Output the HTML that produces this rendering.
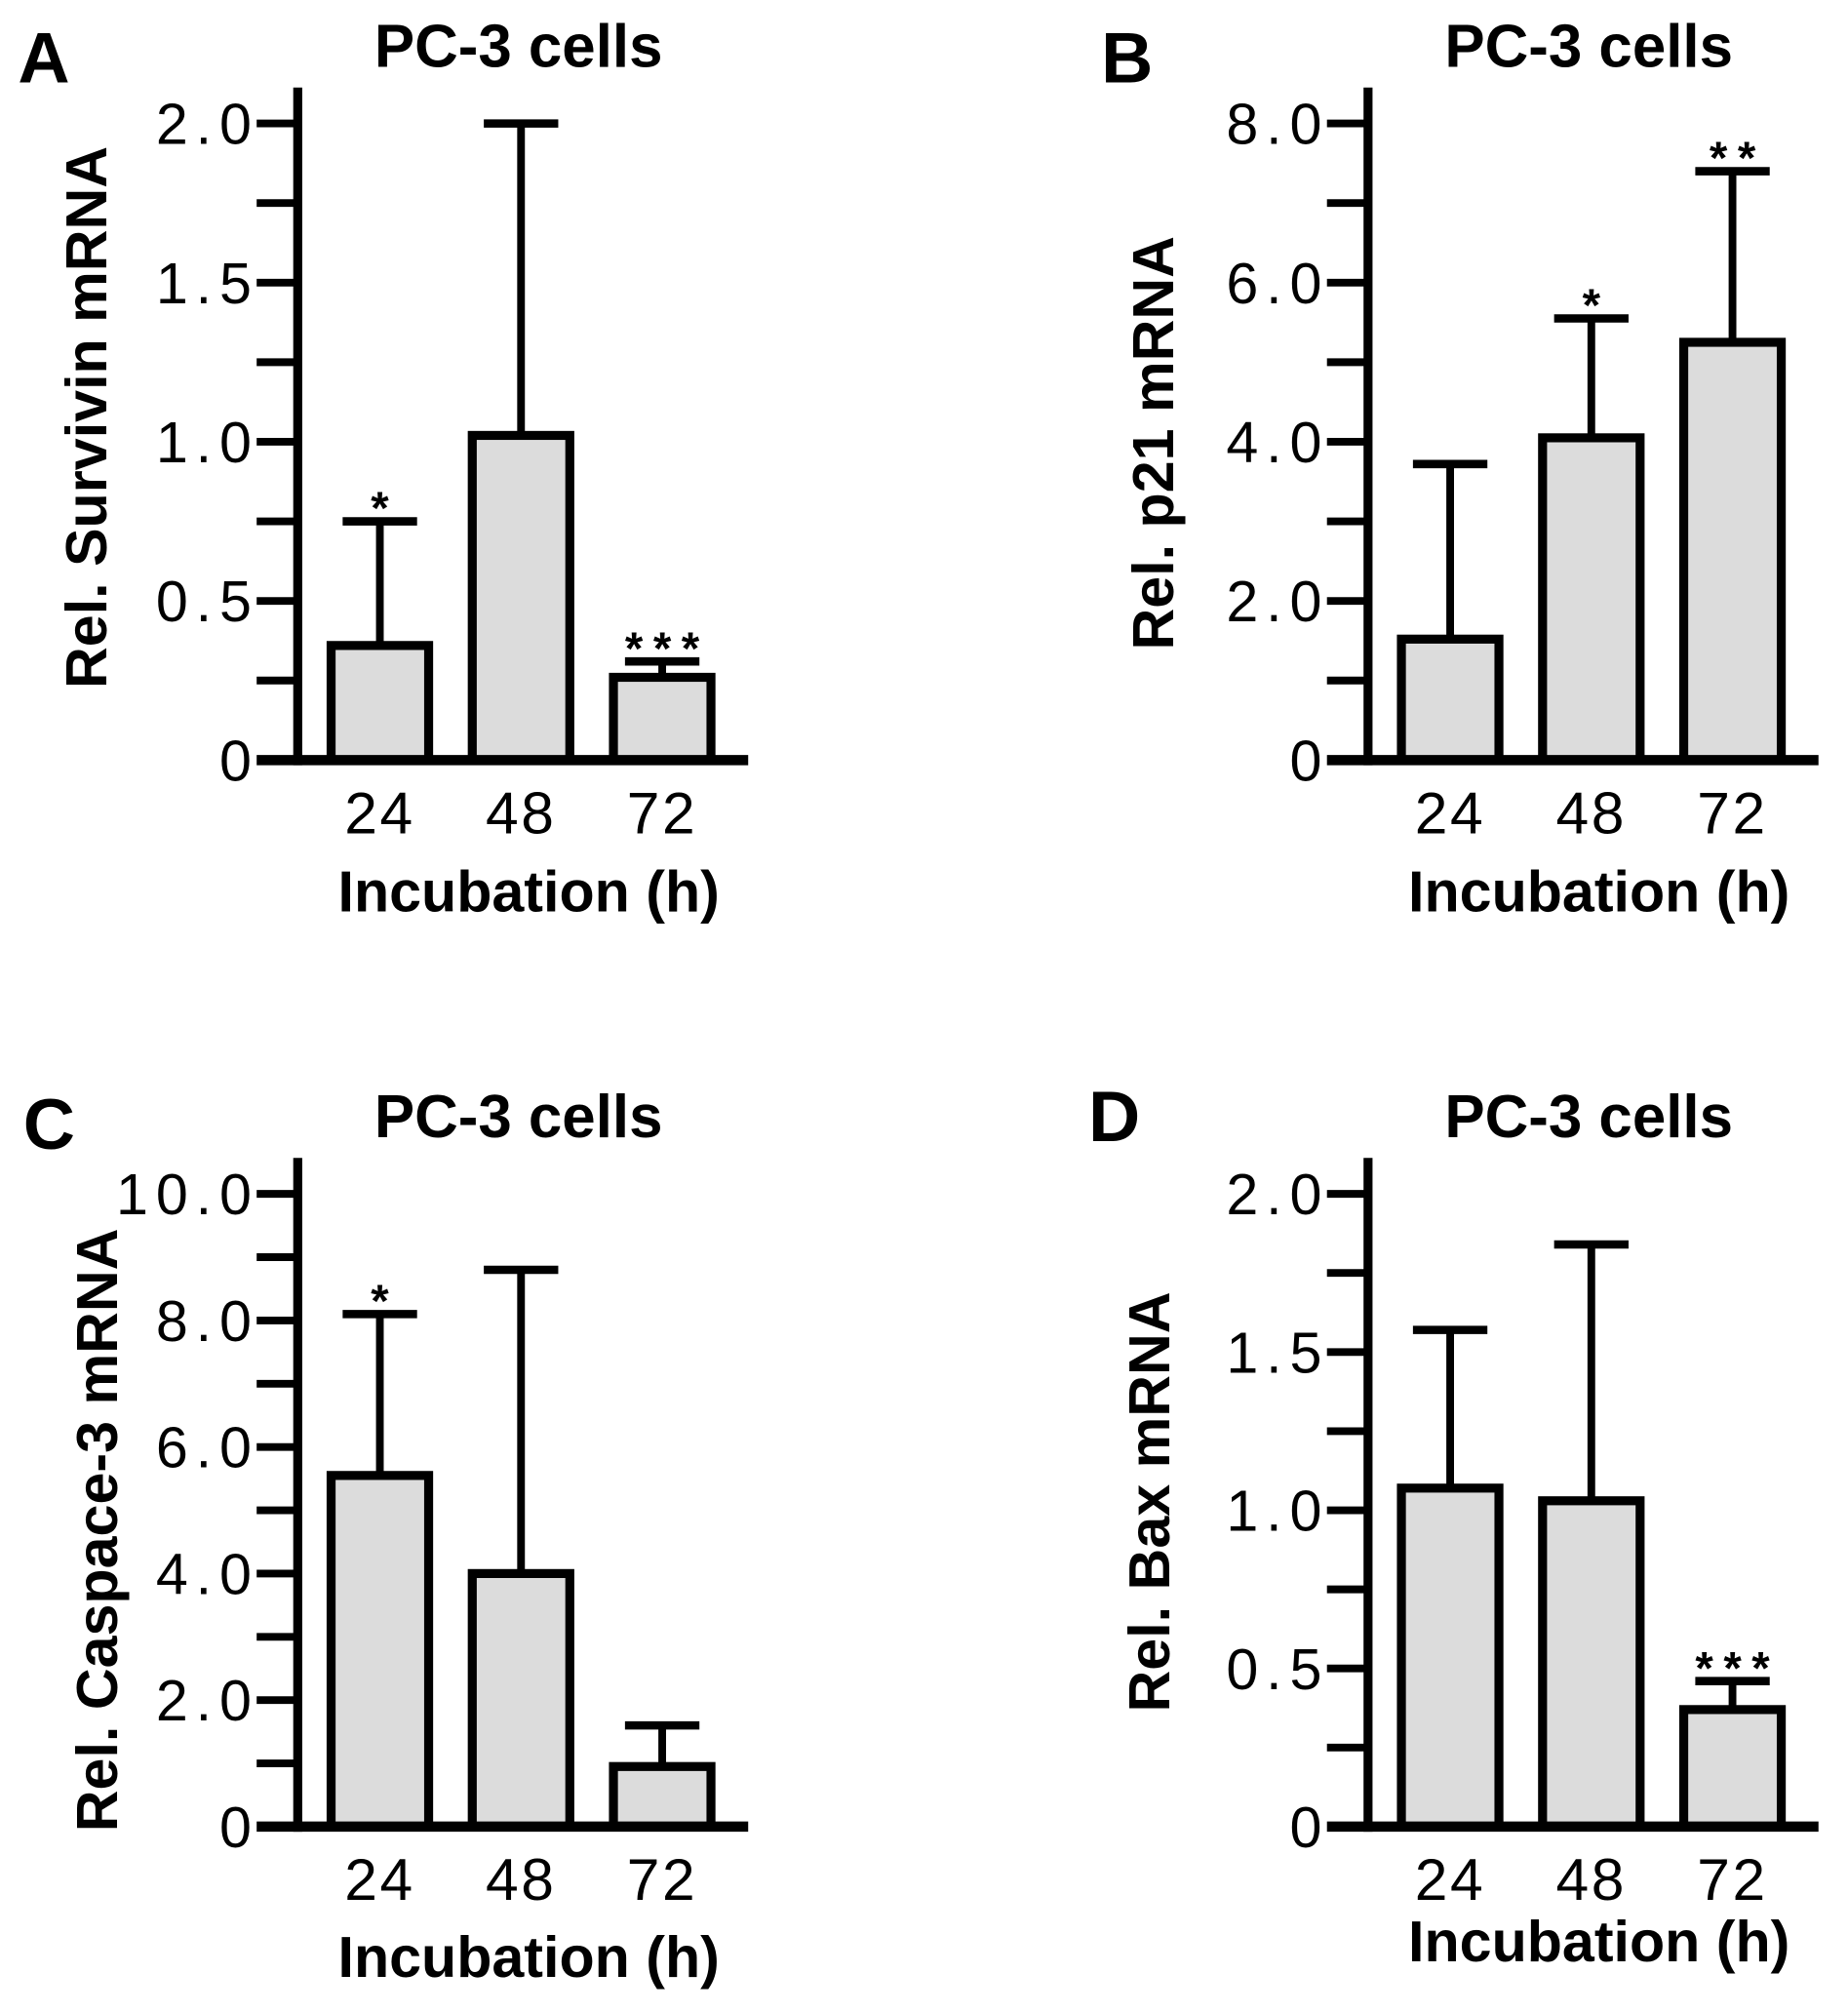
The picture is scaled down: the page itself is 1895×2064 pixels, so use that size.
<!DOCTYPE html>
<html><head><meta charset="utf-8"><style>
html,body{margin:0;padding:0;background:#fff}
svg{display:block}
text{font-family:"Liberation Sans",Arial,sans-serif;fill:#000}
</style></head><body>
<svg id="fig" width="1895" height="2064" viewBox="0 0 1440 1568" xmlns="http://www.w3.org/2000/svg"></svg>
<script>
const categories = ["24","48","72"];
const survivinMeans = [0.36, 1.02, 0.26];
const survivinErrs = [0.75, 2.0, 0.31];
const survivinStars = ["*", "", "***"];
const p21Means = [1.52, 4.05, 5.25];
const p21Errs = [3.72, 5.55, 7.4];
const p21Stars = ["", "*", "**"];
const caspMeans = [5.55, 4.0, 0.95];
const caspErrs = [8.1, 8.8, 1.6];
const caspStars = ["*", "", ""];
const baxMeans = [1.07, 1.03, 0.37];
const baxErrs = [1.57, 1.84, 0.46];
const baxStars = ["", "", "***"];
const survivinTicks = ["0","0.5","1.0","1.5","2.0"];
const p21Ticks = ["0","2.0","4.0","6.0","8.0"];
const caspTicks = ["0","2.0","4.0","6.0","8.0","10.0"];
const baxTicks = ["0","0.5","1.0","1.5","2.0"];

const svg = document.getElementById('fig');
const NS = "http://www.w3.org/2000/svg";
function mk(tag, attrs, parent){
  const e = document.createElementNS(NS, tag);
  for (const k in attrs) e.setAttribute(k, attrs[k]);
  (parent||svg).appendChild(e);
  return e;
}
function txt(s, attrs, parent){ const e = mk('text', attrs, parent); e.textContent = s; return e; }

function panel(cfg){
  const g = mk('g', {});
  
  
  const ax = cfg.ax, base = cfg.base, topY = cfg.topY, maxV = cfg.max;
  const y = v => base - (v / maxV) * (base - topY);
  const xc = i => ax + 64 + i * 110;
  const L = txt(cfg.letter, {x: cfg.letterX, y: cfg.letterY, 'font-size': 56, 'font-weight': 'bold'}, g);
  
  
  const T = txt("PC-3 cells", {x: ax + 172, y: topY - 44, 'font-size': 47, 'font-weight': 'bold', 'text-anchor': 'middle'}, g);
  
  
  for (let i = 0; i < cfg.means.length; i++){
    const cx = xc(i), top = y(cfg.means[i]), et = y(cfg.errs[i]);
    const eb = mk('line', {x1: cx, x2: cx, y1: top, y2: et, stroke: '#000', 'stroke-width': 6}, g);
    
    
    const cap = mk('line', {x1: cx - 29, x2: cx + 29, y1: et, y2: et, stroke: '#000', 'stroke-width': 6.5}, g);
    
    
    const r = mk('rect', {x: cx - 38, y: top, width: 76, height: base - top, fill: '#dcdcdc', stroke: '#000', 'stroke-width': 7}, g);
    
    
    if (cfg.stars[i]){
      const st = txt(cfg.stars[i], {x: cx + 4, y: et + 2, 'font-size': 36, 'font-weight': 'bold', 'text-anchor': 'middle', 'letter-spacing': 8}, g);
      
      
    }
    const tl = txt(categories[i], {x: cx, y: base + 57, 'font-size': 46, 'text-anchor': 'middle', 'letter-spacing': 2}, g);
    
    
  }
  const ya = mk('line', {x1: ax, x2: ax, y1: topY - 28, y2: base + 4, stroke: '#000', 'stroke-width': 7}, g);
  
  
  const xa = mk('line', {x1: ax - 32, x2: ax + 351, y1: base, y2: base, stroke: '#000', 'stroke-width': 8}, g);
  
  
  const ticks = cfg.ticks;
  const step = maxV / (ticks.length - 1);
  for (let k = 0; k <= (ticks.length - 1) * 2; k++){
    const v = k * step / 2;
    if (k > 0){
      const tk = mk('line', {x1: ax - 32, x2: ax, y1: y(v), y2: y(v), stroke: '#000', 'stroke-width': 6}, g);
      
      
    }
    if (k % 2 === 0){
      const lb = txt(ticks[k/2], {x: ax - 30, y: y(v) + 16, 'font-size': 45, 'text-anchor': 'end', 'letter-spacing': 6}, g);
      
      
    }
  }
  const yl = txt(cfg.ylabel, {x: 0, y: 0, 'font-size': 45, 'font-weight': 'bold', 'text-anchor': 'middle', transform: `translate(${cfg.ylx},${cfg.yly}) rotate(-90)`}, g);
  
  
  const xl = txt("Incubation (h)", {x: ax + 180, y: cfg.xlY, 'font-size': 45, 'font-weight': 'bold', 'text-anchor': 'middle'}, g);
  
  
}

panel({name:'panel-a-survivin', letter:'A', letterX:14, letterY:64, ax:232, base:592, topY:96, max:2.0,
  means:survivinMeans, errs:survivinErrs, stars:survivinStars, ticks:survivinTicks,
  ylabel:'Rel. Survivin mRNA', ylx:83, yly:325, xlY:710});
panel({name:'panel-b-p21', letter:'B', letterX:858, letterY:64, ax:1066, base:592, topY:96, max:8.0,
  means:p21Means, errs:p21Errs, stars:p21Stars, ticks:p21Ticks,
  ylabel:'Rel. p21 mRNA', ylx:914, yly:345, xlY:710});
panel({name:'panel-c-caspase3', letter:'C', letterX:18, letterY:895, ax:232, base:1423, topY:930, max:10.0,
  means:caspMeans, errs:caspErrs, stars:caspStars, ticks:caspTicks,
  ylabel:'Rel. Caspace-3 mRNA', ylx:91, yly:1192, xlY:1540});
panel({name:'panel-d-bax', letter:'D', letterX:848, letterY:889, ax:1066, base:1423, topY:930, max:2.0,
  means:baxMeans, errs:baxErrs, stars:baxStars, ticks:baxTicks,
  ylabel:'Rel. Bax mRNA', ylx:911, yly:1170, xlY:1528});
</script>
</body></html>
